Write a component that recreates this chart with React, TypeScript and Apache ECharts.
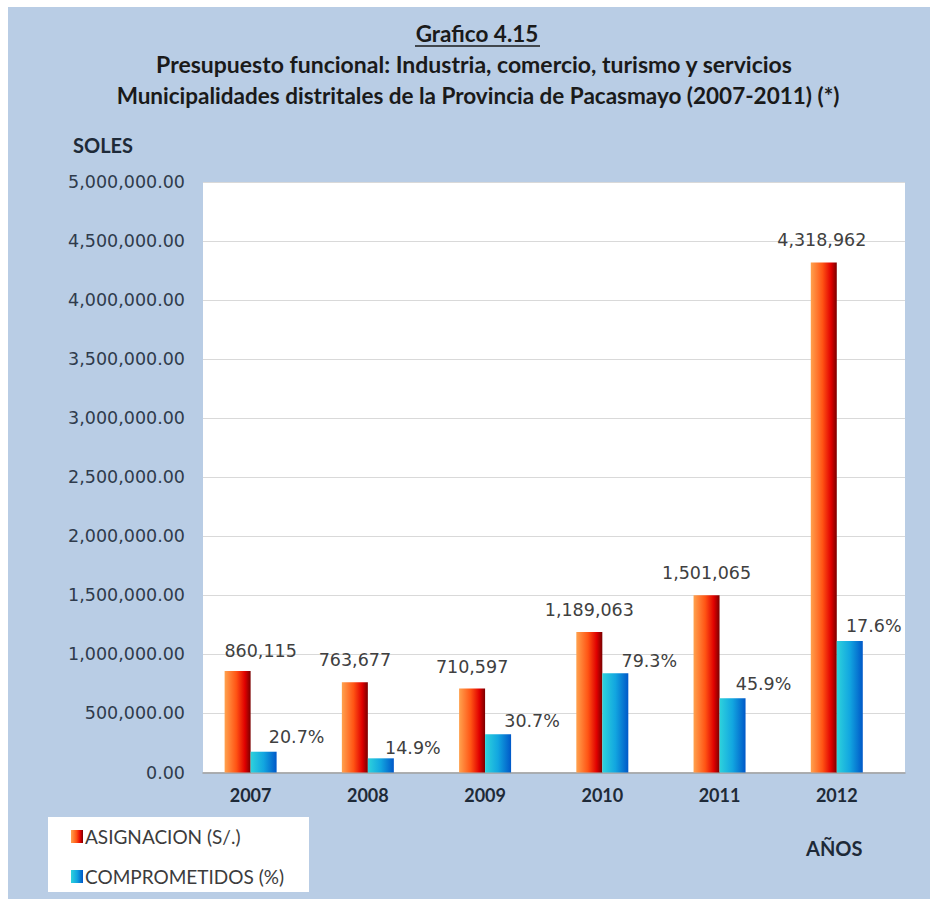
import React, { useEffect, useRef } from "react";
import * as echarts from "echarts";

// ---- data ----
const categories = ["2007", "2008", "2009", "2010", "2011", "2012"];
const asignacion = [860115, 763677, 710597, 1189063, 1501065, 4318962];
// committed amounts
const comprometidos = [176000, 120000, 323000, 840000, 628000, 1113000];
// percentage labels shown above the blue bars
const comprometidosPct = [20.7, 14.9, 30.7, 79.3, 45.9, 17.6];
const seriesNames = ["ASIGNACION (S/.)", "COMPROMETIDOS (%)"];
const titleLines = [
  "Grafico 4.15",
  "Presupuesto funcional: Industria, comercio, turismo y servicios",
  "Municipalidades distritales de la Provincia de Pacasmayo (2007-2011) (*)",
];
const yAxisTitle = "SOLES";
const xAxisTitle = "AÑOS";
const Y_MIN = 0;
const Y_MAX = 5000000;
const Y_STEP = 500000;

// ---- label placement tweaks (style, not data) ----
const asigLabelOffset = [[23, 2], [0, 0], [0, 0], [0, 0], [0, 0], [-2, 0]];
const compLabelOffset = [[33, -2], [32, 3], [34, 0], [34, 1], [31, -1], [24, -2]];

const fmtInt = (v: number) => Math.round(v).toLocaleString("en-US");
const fmtAxis = (v: number) =>
  v.toLocaleString("en-US", { minimumFractionDigits: 2, maximumFractionDigits: 2 });

export default function App() {
  const ref = useRef<HTMLDivElement>(null);

  useEffect(() => {
    if (!ref.current) return;
    const chart = echarts.init(ref.current, undefined, { renderer: "svg" });

    const orangeGrad = new echarts.graphic.LinearGradient(0, 0, 1, 0, [
      { offset: 0, color: "#ffa24e" },
      { offset: 0.45, color: "#ff5414" },
      { offset: 0.78, color: "#e00000" },
      { offset: 1, color: "#7a0000" },
    ]);
    const blueGrad = new echarts.graphic.LinearGradient(0, 0, 1, 0, [
      { offset: 0, color: "#2ed2dc" },
      { offset: 0.5, color: "#12a6e0" },
      { offset: 1, color: "#0058c8" },
    ]);

    const gridTop = 182;
    const gridHeight = 590.5;
    const labelFont = 17.5;

    const option: any = {
      animation: false,
      backgroundColor: "#b9cde5",
      textStyle: { fontFamily: "DejaVu Sans" },
      grid: [
        {
          show: true,
          backgroundColor: "#ffffff",
          borderWidth: 0,
          left: 203,
          top: gridTop,
          width: 702,
          height: gridHeight,
        },
        {
          show: false,
          left: 192,
          top: gridTop,
          width: 703.4,
          height: gridHeight,
        },
      ],
      xAxis: [
        {
          type: "category",
          gridIndex: 0,
          data: categories,
          axisLabel: { show: false },
          axisTick: { show: false },
          axisLine: { show: true, lineStyle: { color: "#a0a0a0", width: 1.5 } },
        },
        {
          type: "category",
          gridIndex: 1,
          data: categories,
          axisLine: { show: false },
          axisTick: { show: false },
          axisLabel: {
            margin: 13,
            fontFamily: "Lato",
            fontWeight: "bold",
            fontSize: 18,
            color: "#1e2a38",
          },
        },
      ],
      yAxis: [
        {
          type: "value",
          gridIndex: 0,
          min: Y_MIN,
          max: Y_MAX,
          interval: Y_STEP,
          axisLine: { show: false },
          axisTick: { show: false },
          splitLine: { lineStyle: { color: "#d9d9d9", width: 1 } },
          axisLabel: {
            margin: 18,
            fontFamily: "DejaVu Sans",
            fontSize: 17.5,
            color: "#2f3b4c",
            formatter: (v: number) => fmtAxis(v),
          },
        },
        {
          type: "value",
          gridIndex: 1,
          min: Y_MIN,
          max: Y_MAX,
          interval: Y_STEP,
          show: false,
          splitLine: { show: false },
        },
      ],
      legend: {
        data: seriesNames,
        orient: "vertical",
        left: 71,
        top: 827,
        padding: 0,
        itemWidth: 12,
        itemHeight: 13,
        itemGap: 21,
        icon: "rect",
        z: 10,
        textStyle: {
          fontFamily: "Lato",
          fontSize: 19,
          color: "#3c3c3c",
          padding: [0, 0, 0, -3],
        },
      },
      series: [
        {
          name: seriesNames[0],
          type: "bar",
          xAxisIndex: 1,
          yAxisIndex: 1,
          barWidth: 26,
          barGap: "0%",
          itemStyle: { color: orangeGrad },
          label: {
            show: true,
            position: "top",
            distance: 13,
            fontFamily: "DejaVu Sans",
            fontSize: labelFont,
            color: "#404040",
            formatter: (p: any) => fmtInt(p.value),
          },
          data: asignacion.map((v, i) => ({
            value: v,
            label: { offset: asigLabelOffset[i] },
          })),
        },
        {
          name: seriesNames[1],
          type: "bar",
          xAxisIndex: 1,
          yAxisIndex: 1,
          barWidth: 26,
          barGap: "0%",
          itemStyle: { color: blueGrad },
          label: {
            show: true,
            position: "top",
            distance: 4,
            fontFamily: "DejaVu Sans",
            fontSize: labelFont,
            color: "#404040",
            formatter: (p: any) => comprometidosPct[p.dataIndex].toFixed(1) + "%",
          },
          data: comprometidos.map((v, i) => ({
            value: v,
            label: { offset: compLabelOffset[i] },
          })),
        },
      ],
      graphic: [
        { type: "rect", shape: { x: 0, y: 0, width: 930, height: 7 }, style: { fill: "#ffffff" }, silent: true },
        { type: "rect", shape: { x: 0, y: 0, width: 8, height: 899 }, style: { fill: "#ffffff" }, silent: true },
        {
          type: "rect",
          shape: { x: 48, y: 817, width: 261, height: 75 },
          style: { fill: "#ffffff" },
          silent: true,
          z: 1,
        },
        {
          type: "text",
          x: 477,
          y: 33,
          style: {
            text: titleLines[0],
            textAlign: "center",
            textVerticalAlign: "middle",
            font: "bold 22.5px Lato",
            fill: "#1a1a1a",
          },
        },
        {
          type: "line",
          shape: { x1: 415, y1: 46, x2: 540, y2: 46 },
          style: { stroke: "#1a1a1a", lineWidth: 1.5 },
        },
        {
          type: "text",
          x: 474,
          y: 64,
          style: {
            text: titleLines[1],
            textAlign: "center",
            textVerticalAlign: "middle",
            font: "bold 23px Lato",
            fill: "#1a1a1a",
          },
        },
        {
          type: "text",
          x: 478,
          y: 95,
          style: {
            text: titleLines[2],
            textAlign: "center",
            textVerticalAlign: "middle",
            font: "bold 22.5px Lato",
            fill: "#1a1a1a",
          },
        },
        {
          type: "text",
          x: 73,
          y: 145,
          style: {
            text: yAxisTitle,
            textAlign: "left",
            textVerticalAlign: "middle",
            font: "bold 20px Lato",
            fill: "#1e2a38",
          },
        },
        {
          type: "text",
          x: 806,
          y: 848,
          style: {
            text: xAxisTitle,
            textAlign: "left",
            textVerticalAlign: "middle",
            font: "bold 20px Lato",
            fill: "#1e2a38",
          },
        },
      ],
    };

    chart.setOption(option);
    return () => chart.dispose();
  }, []);

  return (
    <div
      ref={ref}
      style={{ position: "absolute", left: 0, top: 0, width: 930, height: 899 }}
    />
  );
}
